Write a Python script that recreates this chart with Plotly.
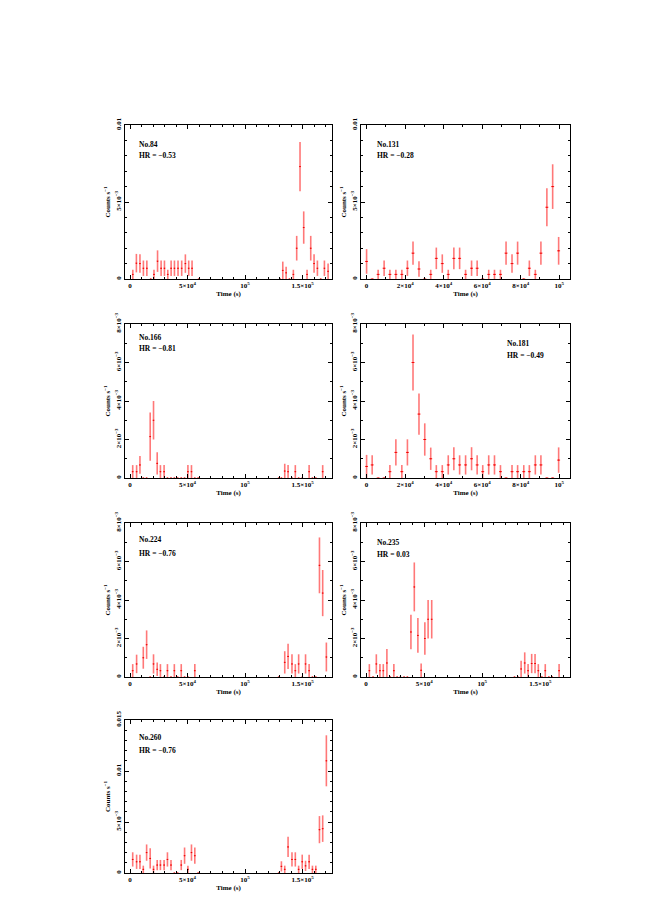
import plotly.graph_objects as go

# ---------------- data (time in s, rate & error in counts/s) ----------------
t84 = [2400, 5500, 8600, 11600, 14600, 18000, 20800, 23900, 27000, 29900, 32800, 35700, 38600,
       41700, 44900, 48100, 51000, 53900, 59700,
       130400, 132800, 135700, 138600, 142000, 144900, 147800, 151000, 153900, 157100, 160000,
       162900, 165800, 169000, 172200]
r84 = [0.0003, 0.00103, 0.001, 0.0007, 0.0007, 0.0, 0.0003, 0.00116, 0.0007, 0.0007, 0.0003, 0.0007, 0.0007,
       0.0007, 0.0007, 0.001, 0.0007, 0.0007, 0.0,
       0.0, 0.00056, 0.0004, 0.0, 0.0003, 0.002, 0.0073, 0.00334, 0.0003, 0.002, 0.001,
       0.0007, 0.0, 0.0007, 0.0005]
e84 = [0.0003, 0.0006, 0.0006, 0.0005, 0.0005, 0.0, 0.0003, 0.0007, 0.0005, 0.0005, 0.0003, 0.0005, 0.0005,
       0.0005, 0.0005, 0.0006, 0.0005, 0.0005, 0.0,
       0.0, 0.00057, 0.0004, 0.0, 0.0003, 0.0008, 0.0016, 0.00105, 0.0003, 0.0008, 0.0006,
       0.0005, 0.0, 0.0005, 0.0005]

t131 = [0, 2900, 6000, 9100, 12100, 15200, 18300, 21200, 24100, 27200, 30200, 33300, 36200, 39300,
        42400, 45300, 48300, 51400, 54500, 57400, 60300, 63400, 66400, 69500, 72400, 75500, 78400,
        81600, 84500, 87600, 90500, 93600, 96600, 99700]
r131 = [0.00114, 0.0, 0.0003, 0.0007, 0.0003, 0.0003, 0.0003, 0.0007, 0.00168, 0.00065, 0.0, 0.0003, 0.00134, 0.001,
        0.0003, 0.00134, 0.00134, 0.0003, 0.0007, 0.0007, 0.0, 0.0003, 0.0003, 0.0003, 0.00168, 0.001, 0.00168,
        0.0, 0.0007, 0.0003, 0.00168, 0.00466, 0.006, 0.00183]
e131 = [0.0008, 0.0, 0.0003, 0.0005, 0.0003, 0.0003, 0.0003, 0.0005, 0.00075, 0.0005, 0.0, 0.0003, 0.0007, 0.0006,
        0.0003, 0.0007, 0.0007, 0.0003, 0.0005, 0.0005, 0.0, 0.0003, 0.0003, 0.0003, 0.00075, 0.0006, 0.00075,
        0.0, 0.0005, 0.0003, 0.00075, 0.00124, 0.00145, 0.0009]

t166 = [2300, 5700, 8600, 11500, 14400, 17500, 20400, 23600, 26400, 29600, 32500, 35600, 38500, 41400,
        44500, 47400, 50300, 53400, 56300, 59200,
        129300, 131600, 134500, 137400, 140800, 143700, 146600, 149700, 155700, 158600, 161500, 167500]
r166 = [0.00033, 0.00033, 0.00068, 0.0, 0.0, 0.00215, 0.003, 0.00076, 0.00033, 0.00033, 0.0, 0.0, 0.0, 0.0,
        0.0, 0.0, 0.00033, 0.00033, 0.0, 0.0,
        0.0, 0.0, 0.00036, 0.00033, 0.0, 0.00033, 0.0, 0.0, 0.00033, 0.0, 0.0, 0.00033]
e166 = [0.00034, 0.00034, 0.00046, 0.0, 0.0, 0.00125, 0.001, 0.00058, 0.00034, 0.00034, 0.0, 0.0, 0.0, 0.0,
        0.0, 0.0, 0.00034, 0.00034, 0.0, 0.0,
        0.0, 0.0, 0.00038, 0.00034, 0.0, 0.00034, 0.0, 0.0, 0.00034, 0.0, 0.0, 0.00034]

t181 = [0, 2900, 6000, 9100, 12100, 15200, 18300, 21200, 24100, 27200, 30200, 33300, 36200, 39300,
        42400, 45300, 48300, 51400, 54500, 57400, 60300, 63400, 66400, 69500, 72400, 75500, 78400,
        81600, 84500, 87600, 90500, 93600, 96600, 99700]
r181 = [0.0006, 0.00068, 0.0, 0.0, 0.00033, 0.00133, 0.00033, 0.00133, 0.006, 0.00332, 0.002, 0.001, 0.00033, 0.00033,
        0.00068, 0.001, 0.00068, 0.00068, 0.001, 0.00068, 0.00033, 0.00068, 0.00068, 0.00033, 0.0, 0.00033, 0.00033,
        0.00033, 0.00033, 0.00068, 0.00068, 0.0, 0.0, 0.00093]
e181 = [0.0006, 0.0005, 0.0, 0.0, 0.00034, 0.00068, 0.00034, 0.00068, 0.00145, 0.00107, 0.00084, 0.00058, 0.00034, 0.00034,
        0.0005, 0.0006, 0.0005, 0.0005, 0.0006, 0.0005, 0.00034, 0.0005, 0.0005, 0.00034, 0.0, 0.00034, 0.00034,
        0.00034, 0.00034, 0.0005, 0.0005, 0.0, 0.0, 0.00066]

t224 = [2300, 5700, 11500, 14400, 17500, 20400, 23600, 26400, 29600, 32500, 35600, 38500, 41400, 44500,
        47400, 50300, 56300,
        129300, 134500, 137400, 140800, 143700, 146600, 149700, 152600, 155700, 158600, 161500,
        164700, 167500, 170700]
r224 = [0.00033, 0.00068, 0.001, 0.00168, 0.0, 0.00068, 0.0004, 0.00033, 0.0, 0.00033, 0.0, 0.00033, 0.0, 0.00033,
        0.0, 0.0, 0.00033,
        0.0, 0.00076, 0.00107, 0.00068, 0.00033, 0.00068, 0.0, 0.00068, 0.00033, 0.0, 0.0,
        0.0058, 0.00436, 0.00104]
e224 = [0.00034, 0.00048, 0.00057, 0.00074, 0.0, 0.0005, 0.00035, 0.00034, 0.0, 0.00034, 0.0, 0.00034, 0.0, 0.00034,
        0.0, 0.0, 0.00034,
        0.0, 0.00058, 0.00066, 0.0005, 0.00034, 0.0005, 0.0, 0.0005, 0.00034, 0.0, 0.0,
        0.00145, 0.0012, 0.00075]

t235 = [2800, 6000, 8800, 11900, 14800, 17900, 20700, 23900, 26700, 29500, 32700, 35500, 38600, 41500,
        44600, 47400, 50600, 53400, 56500,
        127800, 130700, 133500, 136600, 139500, 142600, 145500, 148300, 151400, 154300, 157400, 160200, 166200]
r235 = [0.00033, 0.0, 0.00068, 0.00033, 0.00033, 0.00073, 0.0, 0.00033, 0.0, 0.0, 0.0, 0.0, 0.00234, 0.00468,
        0.00216, 0.00035, 0.002, 0.003, 0.003,
        0.0, 0.0, 0.00042, 0.00073, 0.00033, 0.0007, 0.0007, 0.00033, 0.0, 0.00033, 0.0, 0.0, 0.00033]
e235 = [0.00034, 0.0, 0.0005, 0.00034, 0.00034, 0.00073, 0.0, 0.00034, 0.0, 0.0, 0.0, 0.0, 0.0009, 0.00127,
        0.0009, 0.00035, 0.00084, 0.001, 0.001,
        0.0, 0.0, 0.00042, 0.00055, 0.00034, 0.0005, 0.0005, 0.00034, 0.0, 0.00034, 0.0, 0.0, 0.00034]

t260 = [2300, 5700, 8600, 11500, 14400, 17500, 20400, 23600, 26400, 29600, 32500, 35600, 38500, 41400,
        44500, 47400, 50300, 53400, 56300, 59200,
        129300, 131600, 134500, 137400, 140800, 143700, 146600, 149700, 152600, 155700, 158600, 161500,
        164700, 167500, 170700]
r260 = [0.00133, 0.0011, 0.0011, 0.00036, 0.002, 0.00143, 0.00036, 0.00078, 0.00078, 0.00078, 0.00133, 0.00078, 0.0, 0.0,
        0.00078, 0.0017, 0.00036, 0.002, 0.0017, 0.0,
        0.0, 0.00065, 0.00036, 0.00256, 0.00133, 0.00133, 0.00036, 0.0011, 0.0007, 0.0011, 0.00036, 0.00036,
        0.00425, 0.00435, 0.011]
e260 = [0.0007, 0.0007, 0.0007, 0.00036, 0.0008, 0.001, 0.00036, 0.0005, 0.0005, 0.0005, 0.0007, 0.0005, 0.0, 0.0,
        0.0005, 0.0008, 0.00036, 0.0008, 0.0008, 0.0,
        0.0, 0.0005, 0.00036, 0.001, 0.0007, 0.0007, 0.00036, 0.0007, 0.0005, 0.0007, 0.00036, 0.00036,
        0.00133, 0.0013, 0.0025]

labels = ["No.84", "No.131", "No.166", "No.181", "No.224", "No.235", "No.260"]
hr_values = ["−0.53", "−0.28", "−0.81", "−0.49", "−0.76", "0.03", "−0.76"]

# tick definitions
xt_long_vals = [0, 50000, 100000, 150000]
xt_long_text = ["0", "5×10<sup>4</sup>", "10<sup>5</sup>", "1.5×10<sup>5</sup>"]
xt_short_vals = [0, 20000, 40000, 60000, 80000, 100000]
xt_short_text = ["0", "2×10<sup>4</sup>", "4×10<sup>4</sup>", "6×10<sup>4</sup>", "8×10<sup>4</sup>", "10<sup>5</sup>"]
yt_01_vals = [0, 0.005, 0.01]
yt_01_text = ["0", "5×10<sup>−3</sup>", "0.01"]
yt_8_vals = [0, 0.002, 0.004, 0.006, 0.008]
yt_8_text = ["0", "2×10<sup>−3</sup>", "4×10<sup>−3</sup>", "6×10<sup>−3</sup>", "8×10<sup>−3</sup>"]
yt_015_vals = [0, 0.005, 0.01, 0.015]
yt_015_text = ["0", "5×10<sup>−3</sup>", "0.01", "0.015"]

# ---------------- layout geometry ----------------
W, H = 654, 924
FONT = "Liberation Serif"

panels = [
    dict(t=t84, r=r84, e=e84, col=0, row=0, xr="long", yr="01", txt=(137, 144, 156)),
    dict(t=t131, r=r131, e=e131, col=1, row=0, xr="short", yr="01", txt=(375, 144, 156)),
    dict(t=t166, r=r166, e=e166, col=0, row=1, xr="long", yr="8", txt=(137, 337, 349)),
    dict(t=t181, r=r181, e=e181, col=1, row=1, xr="short", yr="8", txt=(505, 343, 355)),
    dict(t=t224, r=r224, e=e224, col=0, row=2, xr="long", yr="8", txt=(137, 539, 553)),
    dict(t=t235, r=r235, e=e235, col=1, row=2, xr="long", yr="8", txt=(375, 542, 554)),
    dict(t=t260, r=r260, e=e260, col=0, row=3, xr="long", yr="015", txt=(137, 737, 750)),
]

cols_px = [(125, 332), (361, 570)]
rows_px = [(125, 279), (324, 478), (523, 677), (720, 873)]

fig = go.Figure()
annotations = []

for i, p in enumerate(panels):
    n = i + 1
    xa = "x" if n == 1 else f"x{n}"
    ya = "y" if n == 1 else f"y{n}"
    fig.add_trace(go.Scatter(
        x=p["t"], y=p["r"], xaxis=xa, yaxis=ya, mode="markers",
        marker=dict(size=1, color="#e00000"),
        error_y=dict(type="data", array=p["e"], color="rgba(255,30,30,0.6)", thickness=1.6, width=0),
        error_x=dict(type="constant", value=750, color="#ff1010", thickness=1, width=0),
        showlegend=False, hoverinfo="skip"))

    x0, x1 = cols_px[p["col"]]
    y0, y1 = rows_px[p["row"]]
    xdom = [x0 / W, x1 / W]
    ydom = [1 - y1 / H, 1 - y0 / H]

    if p["xr"] == "long":
        xrange = [-4400, 175600]
        tv, tt = xt_long_vals, xt_long_text
    else:
        xrange = [-2900, 105600]
        tv, tt = xt_short_vals, xt_short_text
    if p["yr"] == "01":
        yrange = [0, 0.01]
        yv, yt = yt_01_vals, yt_01_text
    elif p["yr"] == "8":
        yrange = [0, 0.008]
        yv, yt = yt_8_vals, yt_8_text
    else:
        yrange = [0, 0.015]
        yv, yt = yt_015_vals, yt_015_text

    common = dict(showline=True, linecolor="black", linewidth=1, mirror="ticks",
                  ticks="inside", ticklen=4, tickwidth=1, tickcolor="black",
                  showgrid=False, zeroline=False, automargin=False,
                  tickfont=dict(family=FONT, size=7, color="black", weight="bold"))
    xkey = "xaxis" if n == 1 else f"xaxis{n}"
    ykey = "yaxis" if n == 1 else f"yaxis{n}"
    fig.layout[xkey] = dict(
        domain=xdom, range=xrange, anchor=ya, tickmode="array", tickvals=tv, ticktext=tt,
        minor=dict(dtick=10000, tick0=0, ticks="inside", ticklen=2, tickcolor="black", showgrid=False),
        title=dict(text="Time (s)", font=dict(family=FONT, size=7, color="black", weight="bold"), standoff=0),
        **common)
    fig.layout[ykey] = dict(
        domain=ydom, range=yrange, anchor=xa, tickmode="array", tickvals=yv, ticktext=yt, tickangle=-90,
        minor=dict(dtick=0.001, tick0=0, ticks="inside", ticklen=2, tickcolor="black", showgrid=False),
        title=dict(text="Counts s<sup>−1</sup>", font=dict(family=FONT, size=7, color="black", weight="bold"),
                   standoff=2),
        **common)

    tx, ty1, ty2 = p["txt"]
    annotations.append(dict(text=labels[i], x=tx / W, y=1 - ty1 / H, xref="paper", yref="paper",
                            xanchor="left", yanchor="middle", showarrow=False,
                            font=dict(family=FONT, size=7.5, color="black", weight="bold")))
    annotations.append(dict(text="HR = " + hr_values[i], x=tx / W, y=1 - ty2 / H, xref="paper", yref="paper",
                            xanchor="left", yanchor="middle", showarrow=False,
                            font=dict(family=FONT, size=7.5, color="black", weight="bold")))

fig.update_layout(template="none", width=W, height=H, margin=dict(l=0, r=0, t=0, b=0, pad=0, autoexpand=False),
                  paper_bgcolor="white", plot_bgcolor="white",
                  annotations=annotations, showlegend=False)

fig.write_html("out.html", config={"displayModeBar": False},
               post_script="document.body.style.margin='0px';")
